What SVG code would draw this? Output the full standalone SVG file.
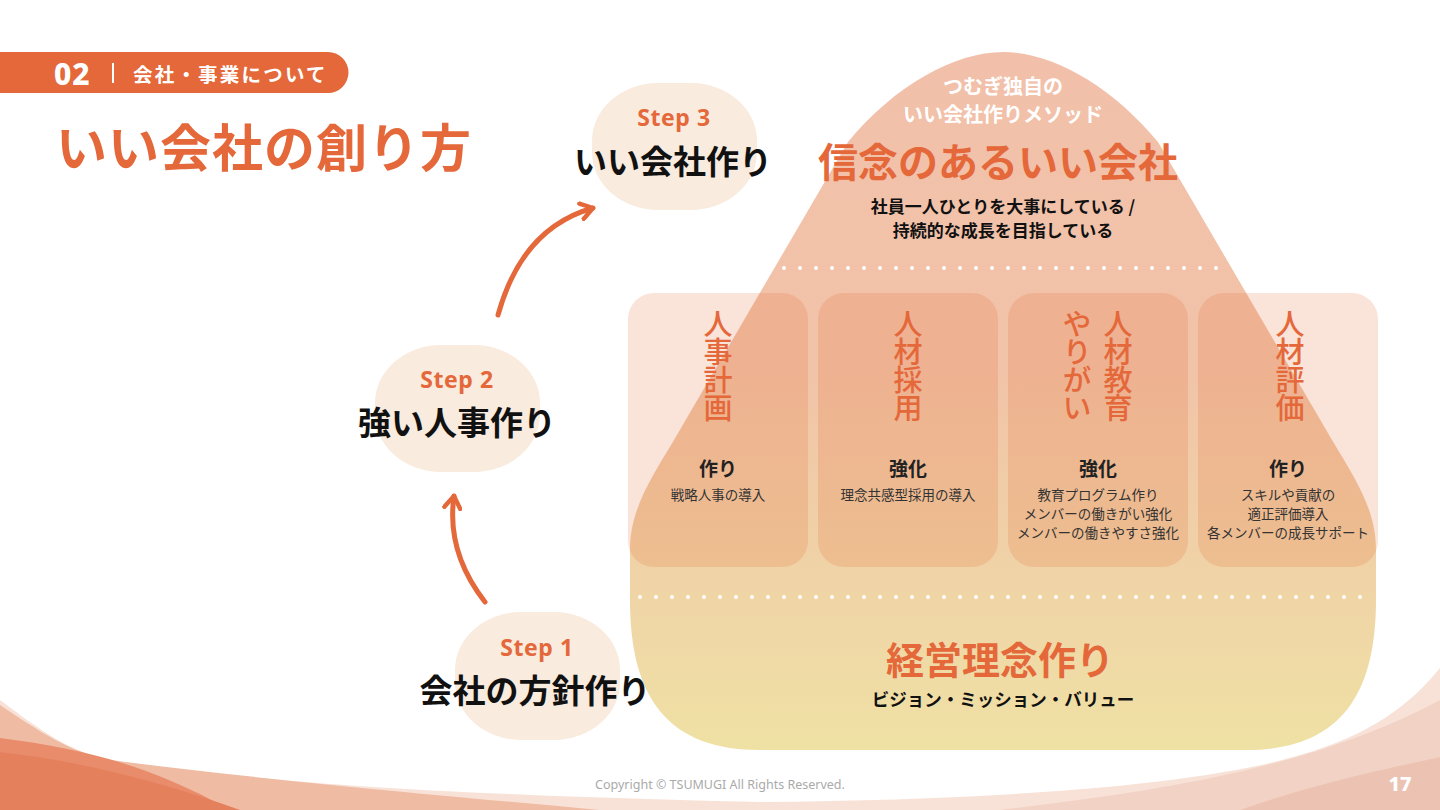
<svg xmlns="http://www.w3.org/2000/svg" width="1440" height="810" viewBox="0 0 1440 810">
<defs>
<linearGradient id="bell" gradientUnits="userSpaceOnUse" x1="0" y1="52" x2="0" y2="750">
<stop offset="0" stop-color="#f2c0aa"/>
<stop offset="0.45" stop-color="#f1c3a8"/>
<stop offset="0.73" stop-color="#f0d2a7"/>
<stop offset="1" stop-color="#efe1a4"/>
</linearGradient>
<marker id="ah" viewBox="0 0 10 10" refX="7" refY="5" markerWidth="4" markerHeight="4" orient="auto" markerUnits="strokeWidth">
<path d="M1 1 L7 5 L1 9" fill="none" stroke="#e4683a" stroke-width="2.2" stroke-linecap="round" stroke-linejoin="round"/>
</marker>
<style>
.jp{font-family:"Noto Sans CJK JP","Noto Sans",sans-serif;}
.lat{font-family:"Noto Sans","Open Sans",sans-serif;}
.or{fill:#e4683a;}
.bk{fill:#111111;}
.c{text-anchor:middle;dominant-baseline:central;}
.vt{font-size:29px;font-weight:500;fill:#e4683a;writing-mode:vertical-rl;text-anchor:start;letter-spacing:-1px;}
.card{fill:#e4622a;fill-opacity:0.18;}
.h2{font-size:19px;font-weight:700;fill:#222;}
.sm{font-size:13.5px;font-weight:400;fill:#333;}
.blob{fill:#f9ebdd;}
.dots{stroke:#ffffff;stroke-width:4;stroke-linecap:round;stroke-dasharray:0 16;fill:none;}
.arrow{fill:none;stroke:#e4683a;stroke-width:5;stroke-linecap:round;}
.step{font-size:23px;font-weight:700;letter-spacing:0.6px;}
</style>
</defs>
<rect width="1440" height="810" fill="#ffffff"/>

<!-- bottom decorations -->
<g id="decor">
<path d="M0 700 C40 730 70 752 110 760 C260 782 420 794 760 802 C1000 800 1200 785 1300 755 C1370 735 1410 705 1440 668 L1440 810 L0 810 Z" fill="#f8e2d8"/>
<path d="M0 705 C40 732 70 752 110 760 C250 778 380 790 600 810 L0 810 Z" fill="#f0bba3"/>
<path d="M0 738 C80 748 150 765 230 810 L0 810 Z" fill="#e98c6b"/>
<path d="M0 752 C90 762 170 785 240 810 L0 810 Z" fill="#e5805d"/>
<path d="M1000 810 C1150 792 1310 770 1440 700 L1440 810 Z" fill="#f2d2c5"/>
<path d="M1240 810 C1320 782 1390 768 1440 757 L1440 810 Z" fill="#ecc3b2"/>
</g>

<!-- header -->
<g id="header">
<path d="M0 52 H328 A20.5 20.5 0 0 1 348.5 72.5 A20.5 20.5 0 0 1 328 93 H0 Z" fill="#e4683a"/>
<text x="54" y="73" class="lat" font-size="30" font-weight="800" fill="#fff" letter-spacing="1" dominant-baseline="central">02</text>
<rect x="112" y="63" width="2" height="20" fill="#fff"/>
<text x="133" y="73" class="jp" font-size="19.5" font-weight="700" fill="#fff" letter-spacing="2.2" dominant-baseline="central">会社・事業について</text>
<text x="56" y="145" class="jp or" font-size="51" font-weight="700" letter-spacing="1" dominant-baseline="central">いい会社の創り方</text>
</g>

<!-- main bell shape -->
<g id="method">
<path d="M1003 52 C955 52 895 85 848 142 L674 440 C650 480 630 510 630 550 L630 600 C630 700 670 750 760 750 L1246 750 C1336 750 1376 700 1376 600 L1376 550 C1376 510 1356 480 1332 440 L1158 142 C1111 85 1051 52 1003 52 Z" fill="url(#bell)"/>
<line x1="784" y1="268" x2="1232" y2="268" class="dots"/>
<line x1="640" y1="597" x2="1366" y2="597" class="dots"/>
<text x="1003" y="85" class="jp c" font-size="20" font-weight="700" fill="#fff">つむぎ独自の</text>
<text x="1003" y="113" class="jp c" font-size="20" font-weight="700" fill="#fff">いい会社作りメソッド</text>
<text x="998" y="160" class="jp c or" font-size="40" font-weight="700">信念のあるいい会社</text>
<text x="1003" y="205" class="jp c bk" font-size="17" font-weight="700">社員一人ひとりを大事にしている /</text>
<text x="1003" y="229" class="jp c bk" font-size="17" font-weight="700">持続的な成長を目指している</text>
</g>

<g id="card1">
<rect x="628" y="293" width="180" height="274" rx="26" class="card"/>
<text class="jp vt" x="718" y="309">人事計画</text>
<text class="jp c h2" x="718" y="467">作り</text>
<text class="jp c sm" x="718" y="494">戦略人事の導入</text>
</g>

<g id="card2">
<rect x="818" y="293" width="180" height="274" rx="26" class="card"/>
<text class="jp vt" x="908" y="309">人材採用</text>
<text class="jp c h2" x="908" y="467">強化</text>
<text class="jp c sm" x="908" y="494">理念共感型採用の導入</text>
</g>

<g id="card3">
<rect x="1008" y="293" width="180" height="274" rx="26" class="card"/>
<text class="jp vt" x="1077" y="309">やりがい</text>
<text class="jp vt" x="1118" y="309">人材教育</text>
<text class="jp c h2" x="1098" y="467">強化</text>
<text class="jp c sm" x="1098" y="494">教育プログラム作り</text>
<text class="jp c sm" x="1098" y="513">メンバーの働きがい強化</text>
<text class="jp c sm" x="1098" y="532">メンバーの働きやすさ強化</text>
</g>

<g id="card4">
<rect x="1198" y="293" width="180" height="274" rx="26" class="card"/>
<text class="jp vt" x="1290" y="309">人材評価</text>
<text class="jp c h2" x="1288" y="467">作り</text>
<text class="jp c sm" x="1288" y="494">スキルや貢献の</text>
<text class="jp c sm" x="1288" y="513">適正評価導入</text>
<text class="jp c sm" x="1288" y="532">各メンバーの成長サポート</text>
</g>

<g id="foundation">
<text x="1000" y="657" class="jp c or" font-size="38" font-weight="700">経営理念作り</text>
<text x="1003" y="698" class="jp c bk" font-size="17.5" font-weight="700">ビジョン・ミッション・バリュー</text>
</g>

<!-- steps -->
<g id="step3">
<rect x="592" y="83" width="165" height="127" rx="66" ry="58" class="blob"/>
<text x="674" y="117" class="lat c or step">Step 3</text>
<text x="673" y="160" class="jp c bk" font-size="33" font-weight="700">いい会社作り</text>
</g>
<g id="step2">
<rect x="375" y="345" width="165" height="127" rx="66" ry="58" class="blob"/>
<text x="457" y="379" class="lat c or step">Step 2</text>
<text x="457" y="421" class="jp c bk" font-size="33" font-weight="700">強い人事作り</text>
</g>
<g id="step1">
<rect x="455" y="612" width="165" height="128" rx="66" ry="58" class="blob"/>
<text x="537" y="647" class="lat c or step">Step 1</text>
<text x="535" y="689" class="jp c bk" font-size="33" font-weight="700">会社の方針作り</text>
</g>

<g id="connectors">
<path d="M485 602 Q446 552 454 496" class="arrow" marker-end="url(#ah)"/>
<path d="M498 315 Q522 228 593 208" class="arrow" marker-end="url(#ah)"/>
</g>

<g id="footer">
<text x="720" y="784" class="lat" font-size="12.5" fill="#aaaaaa" text-anchor="middle" dominant-baseline="central">Copyright © TSUMUGI All Rights Reserved.</text>
<text x="1400" y="783" class="lat" font-size="20" font-weight="800" fill="#ffffff" text-anchor="middle" dominant-baseline="central">17</text>
</g>
</svg>
